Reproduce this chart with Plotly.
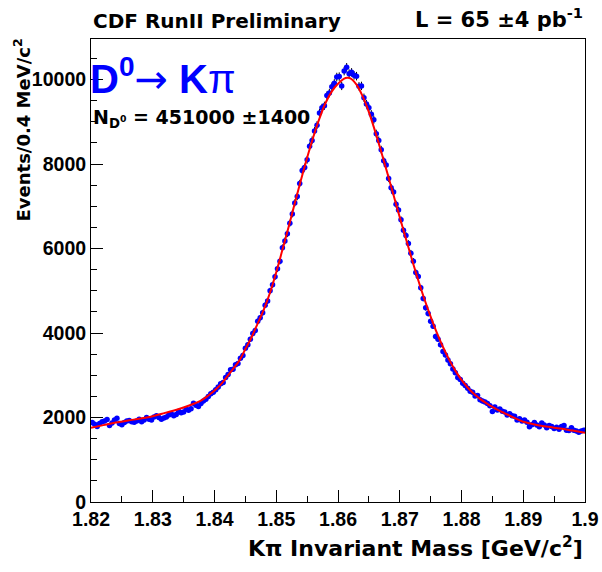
import numpy as np
import plotly.graph_objects as go

# ---- data ----
bin_start = 1.8202
bin_width = 0.0004
counts = [
    1880, 1840, 1790, 1860, 1900, 1920, 1950, 1810, 1870, 1940,
    1980, 1860, 1830, 1880, 1920, 1930, 1900, 1890, 1920, 1960,
    1900, 1940, 2000, 1960, 1940, 2010, 2040, 2000, 1960, 1990,
    2010, 2060, 2090, 2040, 2070, 2150, 2110, 2130, 2200, 2170,
    2210, 2340, 2290, 2260, 2330, 2390, 2430, 2500, 2560, 2600,
    2660, 2720, 2800, 2830, 2950, 3020, 3130, 3140, 3250, 3280,
    3400, 3470, 3640, 3720, 3850, 3990, 4060, 4280, 4360, 4480,
    4660, 4760, 5000, 5140, 5330, 5520, 5700, 6020, 6180, 6350,
    6600, 6820, 7080, 7230, 7540, 7850, 7920, 8100, 8420, 8560,
    8780, 8920, 9210, 9330, 9380, 9620, 9680, 9830, 9910, 10060,
    10070, 9850, 10200, 10290, 10140, 10170, 10100, 10080, 9840, 9850,
    9570, 9420, 9330, 9180, 9050, 8720, 8560, 8340, 8080, 7980,
    7660, 7440, 7340, 7050, 6910, 6680, 6430, 6310, 6120, 5890,
    5700, 5430, 5340, 5070, 4820, 4600, 4460, 4280, 4160, 3920,
    3850, 3720, 3560, 3480, 3360, 3270, 3150, 3060, 2950, 2900,
    2810, 2760, 2690, 2620, 2600, 2510, 2520, 2420, 2390, 2370,
    2330, 2280, 2140, 2250, 2180, 2200, 2150, 2130, 2060, 2090,
    2040, 2030, 1940, 1970, 1920, 1940, 1890, 1780, 1830, 1880,
    1820, 1780, 1870, 1820, 1760, 1810, 1790, 1740, 1770, 1720,
    1790, 1810, 1700, 1690, 1760, 1700, 1680, 1650, 1680, 1700,
]

fit_x = [1.8200, 1.8220, 1.8240, 1.8260, 1.8280, 1.8300, 1.8320, 1.8340, 1.8360, 1.8380,
         1.8390, 1.8400, 1.8410, 1.8420, 1.8430, 1.8440, 1.8450, 1.8460, 1.8470, 1.8480,
         1.8490, 1.8500, 1.8510, 1.8520, 1.8530, 1.8540, 1.8550, 1.8560, 1.8570, 1.8580,
         1.8590, 1.8600, 1.8610, 1.8615, 1.8620, 1.8630, 1.8640, 1.8650, 1.8660, 1.8670,
         1.8680, 1.8690, 1.8700, 1.8710, 1.8720, 1.8730, 1.8740, 1.8750, 1.8760, 1.8770,
         1.8780, 1.8790, 1.8800, 1.8810, 1.8820, 1.8830, 1.8840, 1.8850, 1.8860, 1.8870,
         1.8880, 1.8890, 1.8900, 1.8920, 1.8940, 1.8960, 1.8980, 1.9000]
fit_y = [1760, 1820, 1880, 1930, 1975, 2030, 2110, 2190, 2290, 2420,
         2520, 2640, 2780, 2960, 3150, 3340, 3620, 3900, 4230, 4560,
         4960, 5440, 5970, 6510, 7070, 7620, 8150, 8640, 9080, 9450,
         9720, 9900, 10020, 10040, 10030, 9880, 9600, 9230, 8780, 8290,
         7780, 7260, 6740, 6230, 5730, 5250, 4800, 4390, 4010, 3670,
         3370, 3110, 2890, 2710, 2560, 2440, 2340, 2250, 2170, 2100,
         2030, 1960, 1900, 1830, 1780, 1740, 1690, 1640]

x_ticks = [1.82, 1.83, 1.84, 1.85, 1.86, 1.87, 1.88, 1.89, 1.90]
x_tick_labels = ["1.82", "1.83", "1.84", "1.85", "1.86", "1.87", "1.88", "1.89", "1.9"]
y_ticks = [0, 2000, 4000, 6000, 8000, 10000]
y_tick_labels = ["0", "2000", "4000", "6000", "8000", "10000"]

x_centers = [bin_start + bin_width * i for i in range(len(counts))]
errors = [float(np.sqrt(c)) for c in counts]

FONT = "Liberation Sans, Arial, Helvetica, sans-serif"
WIDE = "DejaVu Sans, Verdana, sans-serif"

fig = go.Figure()
fig.add_trace(go.Scatter(
    x=x_centers, y=counts, mode="markers",
    marker=dict(color="#0000ff", size=5.5, line=dict(width=0)),
    error_y=dict(type="data", array=errors, visible=True, color="black",
                 thickness=1, width=0),
    showlegend=False, hoverinfo="x+y",
))
fig.add_trace(go.Scatter(
    x=fit_x, y=fit_y, mode="lines",
    line=dict(color="#ff0000", width=2, shape="spline"),
    showlegend=False,
))

axis_common = dict(
    showgrid=False, zeroline=False, showline=True, linecolor="black",
    linewidth=1, mirror=True, ticks="inside", tickcolor="black",
    tickwidth=1, ticklen=12, automargin=False,
    tickfont=dict(family=FONT, size=19.5, color="black", weight="bold"),
)
fig.update_xaxes(
    range=[1.82, 1.9], tickvals=x_ticks, ticktext=x_tick_labels,
    minor=dict(dtick=0.005, tick0=1.82, ticks="inside", ticklen=6,
               tickcolor="black", showgrid=False),
    **axis_common,
)
fig.update_yaxes(
    range=[0, 10960], tickvals=y_ticks, ticktext=y_tick_labels,
    minor=dict(dtick=500, tick0=0, ticks="inside", ticklen=6,
               tickcolor="black", showgrid=False),
    **axis_common,
)

L, R, T, B = 91, 17, 39, 70
W, H = 602, 572
pw, ph = W - L - R, H - T - B


def px(xp):
    return (xp - L) / pw


def py(yp):
    return (H - B - yp) / ph


annots = [
    dict(text="<b>CDF RunII Preliminary</b>", x=px(91), y=py(21),
         xanchor="left", yanchor="middle",
         font=dict(family=WIDE, size=20, color="black")),
    dict(text="<b>L = 65 ±4 pb<sup>-1</sup></b>", x=px(585), y=py(18),
         xanchor="right", yanchor="middle",
         font=dict(family=WIDE, size=21, color="black")),
    dict(text="<b>D<sup>0</sup></b><span style='font-family:DejaVu Sans;font-weight:normal'>→</span> <b>K</b>π",
         x=px(88), y=py(76), xanchor="left", yanchor="middle",
         font=dict(family=FONT, size=40, color="#0000ff")),
    dict(text="<b>N<sub>D<sup>0</sup></sub> = 451000 ±1400</b>", x=px(91), y=py(118),
         xanchor="left", yanchor="middle",
         font=dict(family=WIDE, size=19, color="black")),
    dict(text="<b>Kπ Invariant Mass [GeV/c<sup>2</sup>]</b>", x=px(585), y=py(547),
         xanchor="right", yanchor="middle",
         font=dict(family=WIDE, size=22, color="black")),
    dict(text="<b>Events/0.4 MeV/c<sup>2</sup></b>", x=px(22), y=py(37),
         xanchor="center", yanchor="top", textangle=-90,
         font=dict(family=WIDE, size=18, color="black")),
]
for a in annots:
    a.update(xref="paper", yref="paper", showarrow=False)

fig.update_layout(
    width=W, height=H,
    margin=dict(l=L, r=R, t=T, b=B, pad=0),
    paper_bgcolor="white", plot_bgcolor="white",
    annotations=annots,
)

fig.write_html(
    "out.html",
    config={"displayModeBar": False},
    post_script="document.body.style.margin='0';document.body.style.overflow='hidden';",
)
